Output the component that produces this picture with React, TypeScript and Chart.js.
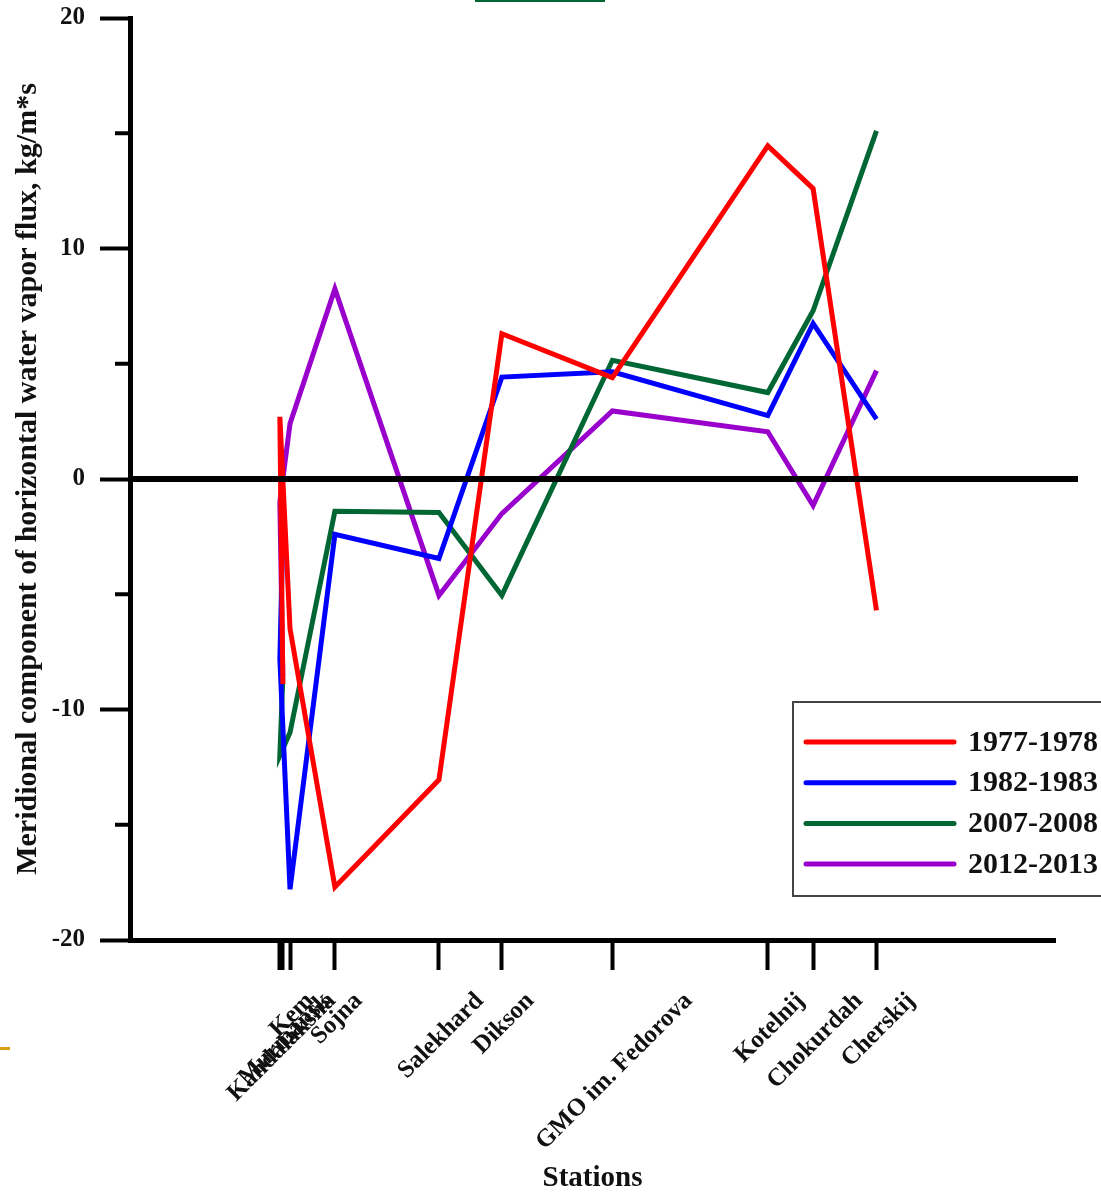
import React, { useEffect, useRef } from "react";
import { Chart, registerables } from "chart.js";

Chart.register(...registerables);

// Station names in data order and their longitudes (x positions)
const stations = [
  "Murmansk",
  "Kandalaksha",
  "Kem",
  "Sojna",
  "Salekhard",
  "Dikson",
  "GMO im. Fedorova",
  "Kotelnij",
  "Chokurdah",
  "Cherskij",
];
const longitudes = [33.05, 32.4, 34.6, 44.3, 66.8, 80.4, 104.3, 137.9, 147.7, 161.4];

const series1977 = [-8.9, 2.7, -6.5, -17.7, -13.05, 6.3, 4.4, 14.45, 12.6, -5.7];
const series1982 = [-2.4, -7.8, -17.8, -2.4, -3.45, 4.42, 4.65, 2.75, 6.75, 2.6];
const series2007 = [-8.6, -12.0, -11.0, -1.4, -1.45, -5.05, 5.15, 3.75, 7.3, 15.1];
const series2012 = [-8.55, -1.0, 2.4, 8.25, -5.05, -1.5, 2.95, 2.05, -1.15, 4.7];

const seriesLabels = ["1977-1978", "1982-1983", "2007-2008", "2012-2013"];
const seriesColors = ["#ff0000", "#0000ff", "#006633", "#9900cc"];

const yTickValues = [-20, -10, 0, 10, 20];
const yMinorTickValues = [-15, -5, 5, 15];

const FONT = "'Liberation Serif', 'Times New Roman', serif";
const XLABEL_SIZE = 25;

const overlayPlugin = {
  id: "overlay",
  afterDatasetsDraw(chart: any) {
    const { ctx, chartArea, scales } = chart;
    const y = scales.y;
    const x = scales.x;
    ctx.save();
    // zero line
    const y0 = y.getPixelForValue(0);
    ctx.strokeStyle = "#000";
    ctx.lineWidth = 6;
    ctx.beginPath();
    ctx.moveTo(chartArea.left, y0);
    ctx.lineTo(chartArea.right + 23, y0);
    ctx.stroke();
    // minor y ticks
    ctx.lineWidth = 4;
    yMinorTickValues.forEach((v) => {
      const py = y.getPixelForValue(v);
      ctx.beginPath();
      ctx.moveTo(chartArea.left - 15, py);
      ctx.lineTo(chartArea.left, py);
      ctx.stroke();
    });
    // x tick labels, rotated 45° and centred on their tick
    ctx.font = `bold ${XLABEL_SIZE}px ${FONT}`;
    ctx.fillStyle = "#111";
    ctx.textAlign = "center";
    ctx.textBaseline = "middle";
    stations.forEach((name, i) => {
      const px = x.getPixelForValue(longitudes[i]);
      const w = ctx.measureText(name).width;
      const h = XLABEL_SIZE * 0.7;
      const cy = chartArea.bottom + 51 + (w + h) * 0.3536;
      ctx.save();
      ctx.translate(px + 2, cy);
      ctx.rotate(-Math.PI / 4);
      ctx.fillText(name, 0, 0);
      ctx.restore();
    });
    ctx.restore();
  },
  afterDraw(chart: any) {
    const { ctx } = chart;
    ctx.save();
    const bx = 793, by = 702, bw = 330, bh = 194;
    ctx.fillStyle = "#fff";
    ctx.fillRect(bx, by, bw, bh);
    ctx.strokeStyle = "#444";
    ctx.lineWidth = 2;
    ctx.strokeRect(bx, by, bw, bh);
    chart.data.datasets.forEach((ds: any, i: number) => {
      const ly = 742 + i * 40.7;
      ctx.strokeStyle = ds.borderColor;
      ctx.lineWidth = 5;
      ctx.lineCap = "round";
      ctx.beginPath();
      ctx.moveTo(806, ly);
      ctx.lineTo(954, ly);
      ctx.stroke();
      ctx.fillStyle = "#111";
      ctx.font = `bold 30px ${FONT}`;
      ctx.textBaseline = "middle";
      ctx.textAlign = "left";
      ctx.fillText(ds.label, 968, ly + 1);
    });
    ctx.restore();
  },
};

export default function App() {
  const canvasRef = useRef<HTMLCanvasElement | null>(null);

  useEffect(() => {
    document.body.style.margin = "0";
    const canvas = canvasRef.current;
    if (!canvas) return;
    const allSeries = [series1977, series1982, series2007, series2012];
    const chart = new Chart(canvas, {
      type: "line",
      data: {
        datasets: allSeries.map((s, i) => ({
          label: seriesLabels[i],
          data: s.map((v, j) => ({ x: longitudes[j], y: v })),
          borderColor: seriesColors[i],
          backgroundColor: seriesColors[i],
          borderWidth: 5,
          pointRadius: 0,
          tension: 0,
          fill: false,
        })),
      },
      options: {
        animation: false,
        responsive: false,
        layout: { padding: { top: 18, right: 46, left: 0, bottom: 0 } },
        plugins: {
          legend: { display: false },
          tooltip: { enabled: false },
        },
        scales: {
          x: {
            type: "linear",
            min: 0,
            max: 200,
            afterBuildTicks: (scale: any) => {
              scale.ticks = [...longitudes].sort((a, b) => a - b).map((v) => ({ value: v }));
            },
            afterFit: (scale: any) => {
              scale.height = 253;
              scale.paddingLeft = 0;
              scale.paddingRight = 0;
            },
            ticks: {
              display: false,
              autoSkip: false,
            },
            grid: {
              drawOnChartArea: false,
              drawTicks: true,
              tickLength: 30,
              tickWidth: 4,
              tickColor: "#000",
              color: "#000",
            },
            border: { display: true, width: 5, color: "#000" },
            title: {
              display: true,
              text: "Stations",
              color: "#111",
              font: { family: FONT, weight: "bold", size: 29, lineHeight: 1.0 },
              padding: { top: 0, bottom: 0 },
            },
          },
          y: {
            type: "linear",
            min: -20,
            max: 20,
            afterBuildTicks: (scale: any) => {
              scale.ticks = yTickValues.map((v) => ({ value: v }));
            },
            afterFit: (scale: any) => {
              scale.width = 130;
              scale.paddingTop = 0;
              scale.paddingBottom = 0;
            },
            ticks: {
              padding: 15,
              color: "#111",
              font: { family: FONT, weight: "bold", size: 25 },
            },
            grid: {
              drawOnChartArea: false,
              drawTicks: true,
              tickLength: 30,
              tickWidth: 4,
              tickColor: "#000",
              color: "#000",
            },
            border: { display: true, width: 5, color: "#000" },
            title: {
              display: true,
              text: "Meridional component of horizontal water vapor flux, kg/m*s",
              color: "#111",
              font: { family: FONT, weight: "bold", size: 30 },
              padding: { top: 10, bottom: 0 },
            },
          },
        },
      },
      plugins: [overlayPlugin],
    });
    return () => chart.destroy();
  }, []);

  return (
    <div style={{ position: "relative", width: 1101, height: 1193, overflow: "hidden", background: "#fff" }}>
      <canvas ref={canvasRef} width={1101} height={1193} style={{ display: "block" }} />
      <div style={{ position: "absolute", left: 475, top: 0, width: 130, height: 2, background: "#006633" }} />
      <div style={{ position: "absolute", left: 0, top: 1047, width: 10, height: 3, background: "#d4a017" }} />
    </div>
  );
}
